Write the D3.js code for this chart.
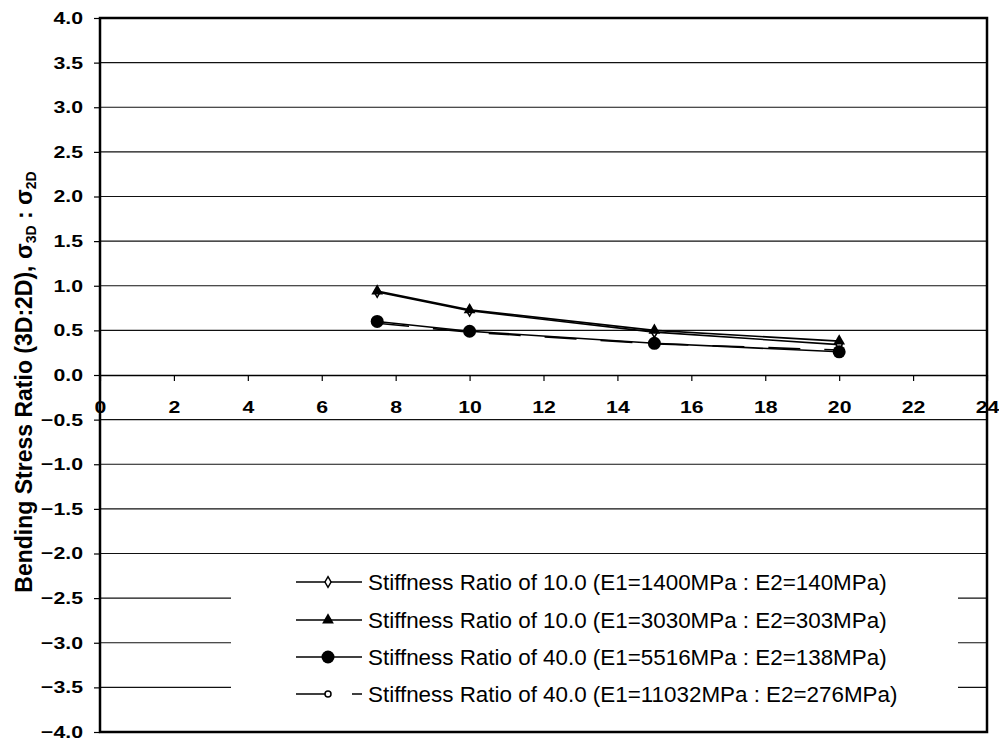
<!DOCTYPE html>
<html>
<head>
<meta charset="utf-8">
<script src="https://cdn.jsdelivr.net/npm/d3@7"></script>
<style>
  body { margin: 0; background: #fff; }
  svg { display: block; font-family: "Liberation Sans", Arial, sans-serif; }
</style>
</head>
<body>
<div id="chart"></div>
<script>
// data
let xValues = [7.5, 10, 15, 20];
let seriesNames = [
  "Stiffness Ratio of 10.0 (E1=1400MPa : E2=140MPa)",
  "Stiffness Ratio of 10.0 (E1=3030MPa : E2=303MPa)",
  "Stiffness Ratio of 40.0 (E1=5516MPa : E2=138MPa)",
  "Stiffness Ratio of 40.0 (E1=11032MPa : E2=276MPa)"
];
let ratio1400 = [0.93, 0.72, 0.48, 0.34];
let ratio3030 = [0.94, 0.73, 0.50, 0.38];
let ratio5516 = [0.60, 0.49, 0.355, 0.26];
let ratio11032 = [0.58, 0.48, 0.35, 0.28];
let xTicks = [0, 2, 4, 6, 8, 10, 12, 14, 16, 18, 20, 22, 24];
let yTicks = [4.0, 3.5, 3.0, 2.5, 2.0, 1.5, 1.0, 0.5, 0.0, -0.5, -1.0, -1.5, -2.0, -2.5, -3.0, -3.5, -4.0];

let width = 999,
  height = 742;
let plotLeft = 100, plotRight = 987, plotTop = 18, plotBottom = 732;
let stretch = 1.25; // tick labels are wide in the original

let xScale = d3.scaleLinear().domain([0, 24]).range([plotLeft, plotRight]);
let yScale = d3.scaleLinear().domain([-4, 4]).range([plotBottom, plotTop]);

let svg = d3.select("#chart")
  .append("svg")
  .attr("width", width)
  .attr("height", height);

svg.append("rect")
  .attr("width", width)
  .attr("height", height)
  .attr("fill", "#fff");

// horizontal gridlines
svg.append("g")
  .selectAll("line")
  .data(yTicks.filter(d => d !== 0 && Math.abs(d) !== 4))
  .enter()
  .append("line")
  .attr("x1", plotLeft)
  .attr("x2", plotRight)
  .attr("y1", d => yScale(d))
  .attr("y2", d => yScale(d))
  .attr("stroke", "#111")
  .attr("stroke-width", 1.2);

// y axis
let yAxis = svg.append("g")
  .attr("transform", "translate(" + plotLeft + ",0)")
  .call(d3.axisLeft(yScale).tickValues(yTicks).tickFormat(d3.format(".1f")).tickSize(6).tickSizeOuter(0).tickPadding(11));
yAxis.select(".domain").remove();
yAxis.selectAll("line").attr("stroke", "#000").attr("stroke-width", 1.2);
yAxis.selectAll("text")
  .attr("font-size", 17)
  .attr("font-weight", "bold")
  .attr("fill", "#000")
  .attr("x", -17 / stretch)
  .attr("transform", "scale(" + stretch + ",1)");

// x axis along zero
let xAxis = svg.append("g")
  .attr("transform", "translate(0," + yScale(0) + ")")
  .call(d3.axisBottom(xScale).tickValues(xTicks).tickSize(6).tickSizeOuter(0).tickPadding(20));
xAxis.select(".domain").attr("stroke", "#000").attr("stroke-width", 1.6);
xAxis.selectAll("line").attr("stroke", "#000").attr("stroke-width", 1.2);
xAxis.selectAll("text")
  .attr("font-size", 17)
  .attr("font-weight", "bold")
  .attr("fill", "#000")
  .attr("transform", "scale(" + stretch + ",1)");

// plot frame
svg.append("rect")
  .attr("x", plotLeft)
  .attr("y", plotTop)
  .attr("width", plotRight - plotLeft)
  .attr("height", plotBottom - plotTop)
  .attr("fill", "none")
  .attr("stroke", "#000")
  .attr("stroke-width", 2.5);

// y axis title
let title = svg.append("text")
  .attr("transform", "translate(32,382) rotate(-90)")
  .attr("text-anchor", "middle")
  .attr("font-size", 23)
  .attr("font-weight", "bold")
  .attr("fill", "#000");
title.append("tspan").text("Bending Stress Ratio (3D:2D), \u03c3");
title.append("tspan").attr("font-size", 14).attr("dy", 4).text("3D");
title.append("tspan").attr("dy", -4).text(" : \u03c3");
title.append("tspan").attr("font-size", 14).attr("dy", 4).text("2D");

// series
let series = [
  { name: seriesNames[0], values: ratio1400, marker: "diamond", dash: null },
  { name: seriesNames[1], values: ratio3030, marker: "triangle", dash: null },
  { name: seriesNames[2], values: ratio5516, marker: "bigcircle", dash: null },
  { name: seriesNames[3], values: ratio11032, marker: "opencircle", dash: "32,24" }
];

function drawMarker(g, type) {
  if (type === "diamond") {
    g.append("path").attr("d", d3.symbol().type(d3.symbolDiamond).size(32))
      .attr("fill", "#fff").attr("stroke", "#000").attr("stroke-width", 1.5);
  } else if (type === "triangle") {
    g.append("path").attr("d", d3.symbol().type(d3.symbolTriangle).size(60)).attr("fill", "#000");
  } else if (type === "bigcircle") {
    g.append("circle").attr("r", 6.5).attr("fill", "#000");
  } else {
    g.append("circle").attr("r", 3).attr("fill", "#fff").attr("stroke", "#000").attr("stroke-width", 1.5);
  }
}

let line = d3.line()
  .x((d, i) => xScale(xValues[i]))
  .y(d => yScale(d));

series.forEach(s => {
  svg.append("path")
    .datum(s.values)
    .attr("d", line)
    .attr("fill", "none")
    .attr("stroke", "#000")
    .attr("stroke-width", 1.6)
    .attr("stroke-dasharray", s.dash);
});

// markers: small ones first so the solid ones sit on top
[3, 0, 1, 2].forEach(k => {
  let s = series[k];
  s.values.forEach((v, i) => {
    let g = svg.append("g")
      .attr("transform", "translate(" + xScale(xValues[i]) + "," + yScale(v) + ")");
    drawMarker(g, s.marker);
  });
});

// legend
let legend = svg.append("g");
legend.append("rect")
  .attr("x", 231)
  .attr("y", 566)
  .attr("width", 727)
  .attr("height", 144)
  .attr("fill", "#fff");

let legendRows = [582, 620, 657, 694];
series.forEach((s, i) => {
  let row = legend.append("g").attr("transform", "translate(0," + legendRows[i] + ")");
  row.append("line")
    .attr("x1", 296)
    .attr("x2", 362)
    .attr("stroke", "#000")
    .attr("stroke-width", 1.5)
    .attr("stroke-dasharray", s.dash);
  let m = row.append("g").attr("transform", "translate(328,0)");
  drawMarker(m, s.marker);
  row.append("text")
    .attr("x", 368)
    .attr("dy", "0.36em")
    .attr("font-size", 22.4)
    .attr("fill", "#000")
    .text(s.name);
});
</script>
</body>
</html>
